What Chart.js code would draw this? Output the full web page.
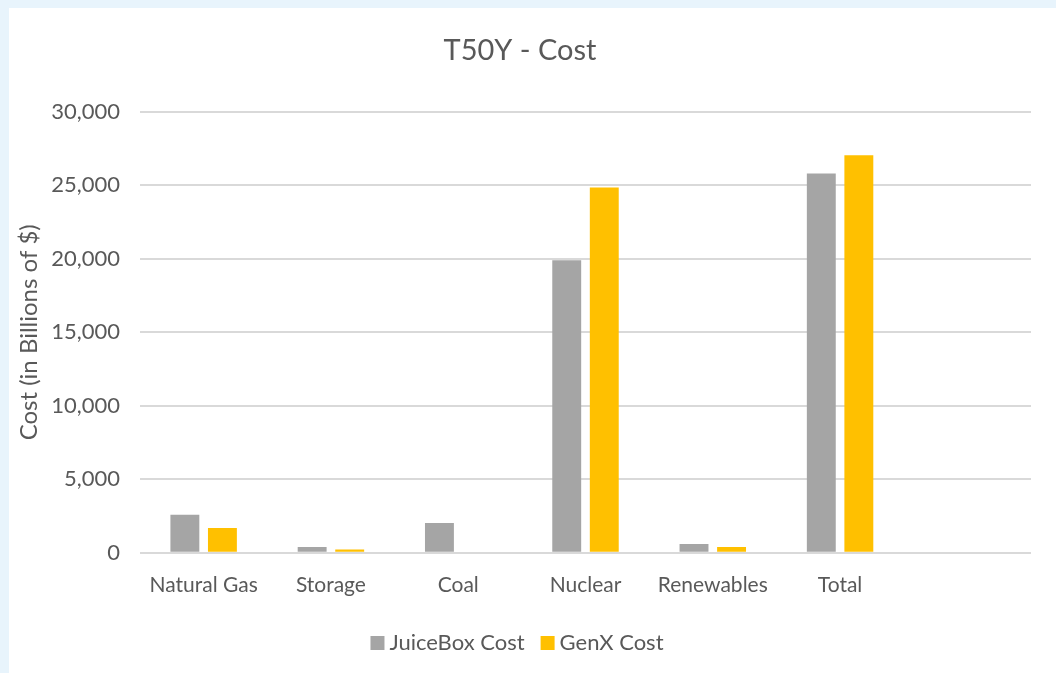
<!DOCTYPE html>
<html>
<head>
<meta charset="utf-8">
<title>T50Y - Cost</title>
<script src="https://cdn.jsdelivr.net/npm/chart.js@4"></script>
<style>
  html, body { margin: 0; padding: 0; }
  body { background: #e8f4fc; width: 1056px; height: 673px; overflow: hidden; position: relative; }
  #wrap { position: absolute; left: 9px; top: 8px; width: 1047px; height: 665px; background: #fff; }
</style>
</head>
<body>
<div id="wrap"><canvas id="chart" width="1047" height="665"></canvas></div>
<script>
const categories = ["Natural Gas", "Storage", "Coal", "Nuclear", "Renewables", "Total", ""];
const juiceBoxCost = [2580, 400, 2030, 19900, 600, 25800, null];
const genXCost = [1680, 220, 0, 24850, 400, 27050, null];
const yTicks = [0, 5000, 10000, 15000, 20000, 25000, 30000];

const textColor = "#595959";
const fontFamily = "Lato, 'Open Sans', sans-serif";

const ctx = document.getElementById("chart").getContext("2d");

new Chart(ctx, {
  type: "bar",
  data: {
    labels: categories,
    datasets: [
      {
        label: "JuiceBox Cost",
        data: juiceBoxCost,
        backgroundColor: "#a5a5a5",
        categoryPercentage: 0.59,
        barPercentage: 0.77,
      },
      {
        label: "GenX Cost",
        data: genXCost,
        backgroundColor: "#ffc000",
        categoryPercentage: 0.59,
        barPercentage: 0.77,
      },
    ],
  },
  options: {
    responsive: false,
    animation: false,
    layout: { padding: { left: 0, right: 25, top: 0, bottom: 9 } },
    plugins: {
      title: {
        display: true,
        text: "T50Y - Cost",
        color: textColor,
        font: { family: fontFamily, size: 29, weight: "normal" },
        padding: { top: 25, bottom: 44 },
      },
      legend: {
        position: "bottom",
        labels: {
          color: textColor,
          font: { family: fontFamily, size: 22 },
          usePointStyle: true,
          pointStyle: "rect",
          boxWidth: 2,
          boxHeight: 14,
          padding: 22,
        },
      },
      tooltip: { enabled: false },
    },
    scales: {
      x: {
        grid: { display: false },
        border: { display: false },
        ticks: {
          color: textColor,
          font: { family: fontFamily, size: 21 },
          padding: 12,
          maxRotation: 0,
        },
      },
      y: {
        min: 0,
        max: 30000,
        afterBuildTicks: (scale) => {
          scale.ticks = yTicks.map((v) => ({ value: v }));
        },
        afterFit: (scale) => {
          scale.width = 131;
        },
        grid: { color: "#d9d9d9", lineWidth: 2, drawTicks: false },
        border: { display: false },
        ticks: {
          color: textColor,
          font: { family: fontFamily, size: 22 },
          padding: 20,
          callback: (v) => Number(v).toLocaleString("en-US"),
        },
        title: {
          display: true,
          text: "Cost (in Billions of $)",
          color: textColor,
          font: { family: fontFamily, size: 24 },
          padding: { top: 6, bottom: 0 },
        },
      },
    },
  },
});
</script>
</body>
</html>
